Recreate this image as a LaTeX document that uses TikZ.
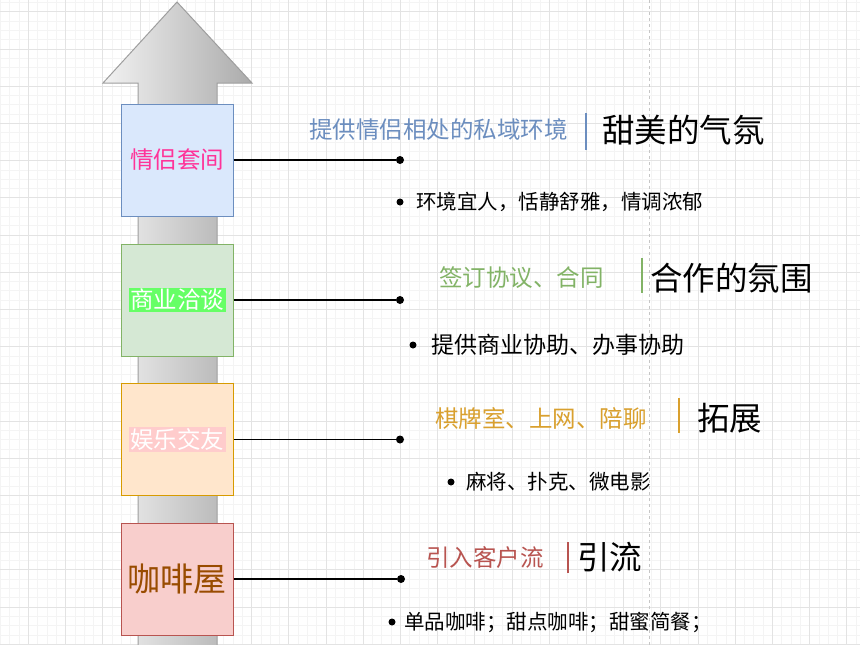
\documentclass[tikz,border=0pt]{standalone}
\usepackage{fontspec}
\setmainfont{Noto Sans CJK SC}
\usepackage{tikz}

\definecolor{gridminor}{HTML}{F4F4F4}
\definecolor{gridmajor}{HTML}{E3E3E3}
\definecolor{arrowlight}{HTML}{F2F2F2}
\definecolor{arrowdark}{HTML}{ABABAB}
\definecolor{arrowline}{HTML}{9E9E9E}
\definecolor{qlfill}{HTML}{DAE8FC}
\definecolor{qlline}{HTML}{6C8EBF}
\definecolor{qltext}{HTML}{FF3399}
\definecolor{syfill}{HTML}{D5E8D4}
\definecolor{syline}{HTML}{82B366}
\definecolor{syhl}{HTML}{66FF66}
\definecolor{ylfill}{HTML}{FFE6CC}
\definecolor{ylline}{HTML}{D79B00}
\definecolor{yltag}{HTML}{D9A02E}
\definecolor{ylhl}{HTML}{FFCCCC}
\definecolor{kffill}{HTML}{F8CECC}
\definecolor{kfline}{HTML}{B85450}
\definecolor{kftext}{HTML}{994C00}
\setlength{\fboxsep}{1.5pt}

\begin{document}
\begin{tikzpicture}[x=1pt, y=-1pt,
  stagebox/.style={line width=1pt, minimum size=112pt, inner sep=0pt,
                   font=\fontsize{23.5}{26}\selectfont},
  hubdot/.style={circle, fill=black, inner sep=0pt, minimum size=8pt},
  itemdot/.style={circle, fill=black, inner sep=0pt, minimum size=7pt},
  link/.style={line width=1.6pt},
  sepbar/.style={line width=2pt},
  tagtext/.style={anchor=west, inner sep=0pt, font=\fontsize{23.5}{26}\selectfont},
  themetext/.style={anchor=west, inner sep=0pt, font=\fontsize{32.5}{36}\selectfont},
  itemtext/.style={anchor=west, inner sep=0pt, font=\fontsize{20.5}{24}\selectfont},
  minorline/.style={draw=gridminor, line width=0.6pt},
  majorline/.style={draw=gridmajor, line width=0.8pt}]
  \useasboundingbox (0,0) rectangle (860,645);
  \clip (0,0) rectangle (860,645);
  \fill[white] (0,0) rectangle (860,645);
  % background grid
  \foreach \i in {0,...,94}
    \draw[minorline] ({-8.9+9.3*\i},0) -- ({-8.9+9.3*\i},645);
  \foreach \i in {0,...,72}
    \draw[minorline] (0,{-25.5+9.3*\i}) -- (860,{-25.5+9.3*\i});
  \foreach \i in {0,...,23}
    \draw[majorline] ({-8.9+37.2*\i},0) -- ({-8.9+37.2*\i},645);
  \foreach \i in {0,...,18}
    \draw[majorline] (0,{-25.5+37.2*\i}) -- (860,{-25.5+37.2*\i});
  \draw[gray!45, line width=0.6pt, dash pattern=on 3pt off 3pt] (649,0) -- (649,645);

  % big grey arrow
  \shadedraw[left color=arrowlight, right color=arrowdark, draw=arrowline, line width=1pt]
    (138,648) -- (138,83) -- (103,83) -- (177,2) -- (252,83) -- (217,83) -- (217,648);

  % stage boxes
  \node[stagebox, fill=qlfill, draw=qlline, text=qltext] (qinglv) at (177,160) {情侣套间};
  \node[stagebox, fill=syfill, draw=syline] (shangye) at (177,300)
    {\colorbox{syhl}{\textcolor{white}{商业洽谈}}};
  \node[stagebox, fill=ylfill, draw=ylline] (yule) at (177,439.5)
    {\colorbox{ylhl}{\textcolor{white}{娱乐交友}}};
  \node[stagebox, fill=kffill, draw=kfline, text=kftext,
        font=\fontsize{33}{36}\selectfont] (kafei) at (177,579) {咖啡屋};

  % connectors
  \node[hubdot] (d1) at (400,160) {};
  \node[hubdot] (d2) at (400,300) {};
  \node[hubdot] (d3) at (400,439.5) {};
  \node[hubdot] (d4) at (401,579) {};
  \draw[link] (qinglv.east) -- (d1);
  \draw[link] (shangye.east) -- (d2);
  \draw[link] (yule.east) -- (d3);
  \draw[link] (kafei.east) -- (d4);

  % row 1
  \node[tagtext, text=qlline] (tag1) at (309,130) {提供情侣相处的私域环境};
  \draw[sepbar, qlline] (586,113) -- (586,150);
  \node[themetext] (theme1) at (602,130) {甜美的气氛};
  \node[itemdot] (b1) at (400,202) {};
  \node[itemtext] (item1) at (416,202) {环境宜人，恬静舒雅，情调浓郁};

  % row 2
  \node[tagtext, text=syline] (tag2) at (439,278) {签订协议、合同};
  \draw[sepbar, syline] (642,258) -- (642,293);
  \node[themetext] (theme2) at (650,278) {合作的氛围};
  \node[itemdot] (b2) at (413,345) {};
  \node[itemtext, font=\fontsize{23}{26}\selectfont] (item2) at (431,345) {提供商业协助、办事协助};

  % row 3
  \node[tagtext, text=yltag] (tag3) at (435,418) {棋牌室、上网、陪聊};
  \draw[sepbar, yltag] (679,398) -- (679,433);
  \node[themetext] (theme3) at (697,418) {拓展};
  \node[itemdot] (b3) at (451,482) {};
  \node[itemtext] (item3) at (466,482) {麻将、扑克、微电影};

  % row 4
  \node[tagtext, text=kfline] (tag4) at (426,558) {引入客户流};
  \draw[sepbar, kfline] (568,542) -- (568,573);
  \node[themetext] (theme4) at (577,557) {引流};
  \node[itemdot] (b4) at (392,622) {};
  \node[itemtext] (item4) at (404,622) {单品咖啡；甜点咖啡；甜蜜简餐；};
\end{tikzpicture}
\end{document}
